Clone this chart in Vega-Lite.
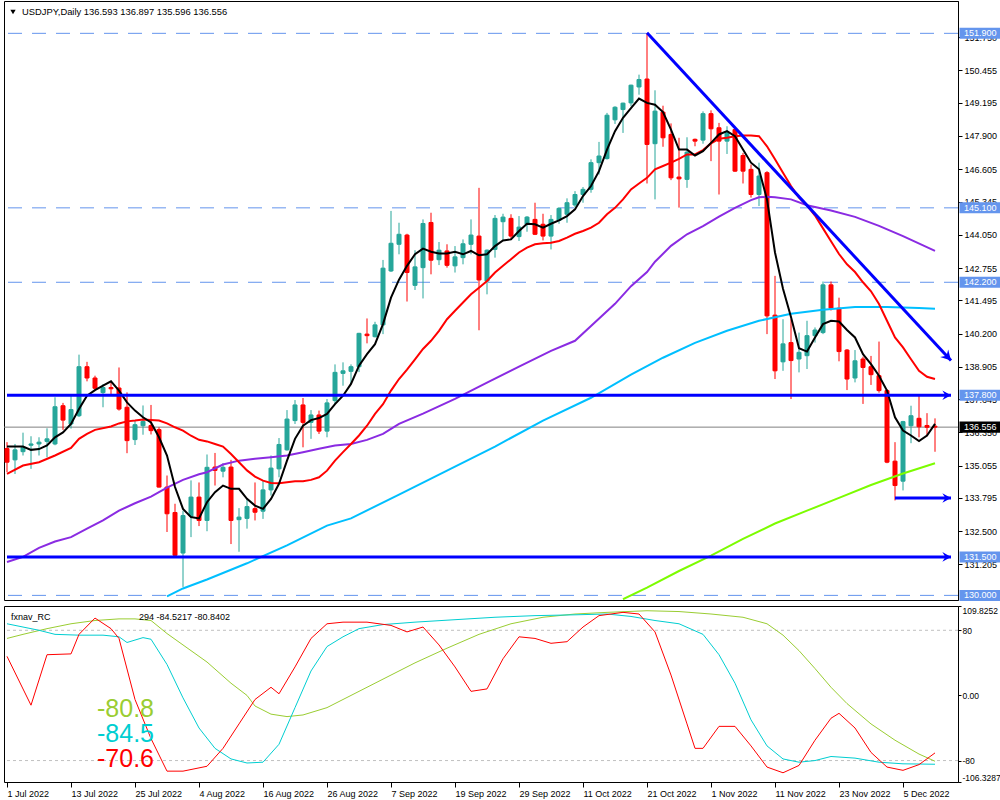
{
"$schema": "https://vega.github.io/schema/vega-lite/v6.json",
"padding": 0,
"background": "white",
"spacing": 3,
"resolve": {"scale": {"x": "independent", "y": "independent"}},
"config": {"font": "Liberation Sans", "view": {"stroke": "black", "strokeWidth": 1}, "axis": {"labelFont": "Liberation Sans", "labelFontSize": 9, "labelColor": "black", "domainColor": "black", "tickColor": "black", "grid": false, "domainWidth": 1, "tickWidth": 1}},
"datasets": {
"candles": [
{"date":"2022-07-01","open":135.72,"high":135.97,"low":134.8,"close":135.19},
{"date":"2022-07-04","open":135.28,"high":135.9,"low":134.73,"close":135.67},
{"date":"2022-07-05","open":135.6,"high":136.34,"low":135.45,"close":135.77},
{"date":"2022-07-06","open":135.85,"high":136.2,"low":134.93,"close":135.9},
{"date":"2022-07-07","open":135.9,"high":136.16,"low":135.45,"close":135.97},
{"date":"2022-07-08","open":136.0,"high":136.51,"low":135.38,"close":136.1},
{"date":"2022-07-11","open":135.9,"high":137.72,"low":135.85,"close":137.35},
{"date":"2022-07-12","open":137.39,"high":137.5,"low":136.45,"close":136.83},
{"date":"2022-07-13","open":136.68,"high":137.78,"low":136.5,"close":137.24},
{"date":"2022-07-14","open":137.0,"high":139.38,"low":136.95,"close":138.91},
{"date":"2022-07-15","open":138.91,"high":139.1,"low":138.34,"close":138.47},
{"date":"2022-07-18","open":138.47,"high":138.56,"low":137.97,"close":138.07},
{"date":"2022-07-19","open":137.9,"high":138.23,"low":137.33,"close":138.1},
{"date":"2022-07-20","open":138.1,"high":138.34,"low":137.78,"close":138.05},
{"date":"2022-07-21","open":138.08,"high":138.88,"low":137.2,"close":137.26},
{"date":"2022-07-22","open":137.33,"high":137.91,"low":135.54,"close":136.03},
{"date":"2022-07-25","open":136.07,"high":136.81,"low":135.86,"close":136.65},
{"date":"2022-07-26","open":136.61,"high":137.4,"low":136.26,"close":136.78},
{"date":"2022-07-27","open":136.62,"high":137.42,"low":136.27,"close":136.42},
{"date":"2022-07-28","open":136.46,"high":136.55,"low":134.2,"close":134.22},
{"date":"2022-07-29","open":134.22,"high":134.67,"low":132.47,"close":133.18},
{"date":"2022-08-01","open":133.23,"high":133.57,"low":131.5,"close":131.56},
{"date":"2022-08-02","open":131.65,"high":133.3,"low":130.33,"close":133.11},
{"date":"2022-08-03","open":133.09,"high":134.48,"low":132.27,"close":133.83},
{"date":"2022-08-04","open":133.83,"high":134.4,"low":132.7,"close":132.92},
{"date":"2022-08-05","open":132.92,"high":135.49,"low":132.5,"close":134.99},
{"date":"2022-08-08","open":135.0,"high":135.55,"low":134.28,"close":134.87},
{"date":"2022-08-09","open":134.84,"high":135.15,"low":134.6,"close":134.99},
{"date":"2022-08-10","open":135.0,"high":135.28,"low":132.0,"close":132.92},
{"date":"2022-08-11","open":132.95,"high":133.4,"low":131.7,"close":133.05},
{"date":"2022-08-12","open":133.0,"high":133.76,"low":132.6,"close":133.46},
{"date":"2022-08-15","open":133.38,"high":134.4,"low":132.92,"close":133.24},
{"date":"2022-08-16","open":133.28,"high":134.47,"low":132.98,"close":134.11},
{"date":"2022-08-17","open":134.11,"high":135.45,"low":133.89,"close":134.96},
{"date":"2022-08-18","open":134.93,"high":136.13,"low":134.6,"close":135.88},
{"date":"2022-08-19","open":135.67,"high":137.22,"low":135.64,"close":136.87},
{"date":"2022-08-22","open":136.81,"high":137.61,"low":136.68,"close":137.42},
{"date":"2022-08-23","open":137.42,"high":137.69,"low":135.77,"close":136.74},
{"date":"2022-08-24","open":136.74,"high":137.22,"low":136.1,"close":137.03},
{"date":"2022-08-25","open":137.03,"high":137.2,"low":136.29,"close":136.4},
{"date":"2022-08-26","open":136.4,"high":137.65,"low":136.16,"close":137.5},
{"date":"2022-08-29","open":137.59,"high":139.0,"low":137.45,"close":138.69},
{"date":"2022-08-30","open":138.65,"high":139.08,"low":138.17,"close":138.75},
{"date":"2022-08-31","open":138.73,"high":139.0,"low":138.24,"close":138.91},
{"date":"2022-09-01","open":138.91,"high":140.23,"low":138.7,"close":140.21},
{"date":"2022-09-02","open":140.18,"high":140.79,"low":139.82,"close":140.12},
{"date":"2022-09-05","open":140.08,"high":140.66,"low":140.05,"close":140.54},
{"date":"2022-09-06","open":140.54,"high":143.07,"low":140.18,"close":142.75},
{"date":"2022-09-07","open":142.64,"high":144.98,"low":142.6,"close":143.72},
{"date":"2022-09-08","open":143.68,"high":144.52,"low":143.29,"close":144.07},
{"date":"2022-09-09","open":144.04,"high":144.09,"low":141.45,"close":142.58},
{"date":"2022-09-12","open":142.08,"high":143.45,"low":141.9,"close":142.8},
{"date":"2022-09-13","open":142.77,"high":144.65,"low":141.57,"close":144.49},
{"date":"2022-09-14","open":144.53,"high":144.91,"low":142.51,"close":143.06},
{"date":"2022-09-15","open":143.08,"high":143.77,"low":142.87,"close":143.45},
{"date":"2022-09-16","open":143.42,"high":143.68,"low":142.77,"close":142.86},
{"date":"2022-09-19","open":142.84,"high":143.61,"low":142.58,"close":143.19},
{"date":"2022-09-20","open":143.16,"high":143.87,"low":142.9,"close":143.7},
{"date":"2022-09-21","open":143.68,"high":144.65,"low":143.29,"close":144.04},
{"date":"2022-09-22","open":144.0,"high":145.88,"low":140.33,"close":142.29},
{"date":"2022-09-23","open":142.25,"high":143.48,"low":141.73,"close":143.45},
{"date":"2022-09-26","open":143.48,"high":144.82,"low":143.16,"close":144.69},
{"date":"2022-09-27","open":144.56,"high":144.87,"low":143.81,"close":144.74},
{"date":"2022-09-28","open":144.69,"high":144.85,"low":143.87,"close":144.0},
{"date":"2022-09-29","open":143.98,"high":144.78,"low":143.81,"close":144.35},
{"date":"2022-09-30","open":144.46,"high":144.78,"low":144.17,"close":144.74},
{"date":"2022-10-03","open":144.65,"high":145.3,"low":144.04,"close":144.07},
{"date":"2022-10-04","open":144.46,"high":144.87,"low":143.83,"close":144.0},
{"date":"2022-10-05","open":144.0,"high":144.82,"low":143.48,"close":144.65},
{"date":"2022-10-06","open":144.61,"high":145.13,"low":144.48,"close":145.08},
{"date":"2022-10-07","open":144.85,"high":145.47,"low":144.52,"close":145.3},
{"date":"2022-10-10","open":145.21,"high":145.75,"low":145.11,"close":145.62},
{"date":"2022-10-11","open":145.62,"high":145.91,"low":145.3,"close":145.82},
{"date":"2022-10-12","open":145.82,"high":146.99,"low":145.69,"close":146.86},
{"date":"2022-10-13","open":146.86,"high":147.67,"low":146.4,"close":147.12},
{"date":"2022-10-14","open":147.02,"high":148.8,"low":146.98,"close":148.71},
{"date":"2022-10-17","open":148.53,"high":149.06,"low":148.37,"close":149.02},
{"date":"2022-10-18","open":148.93,"high":149.2,"low":148.02,"close":149.18},
{"date":"2022-10-19","open":149.19,"high":149.9,"low":149.06,"close":149.88},
{"date":"2022-10-20","open":149.81,"high":150.29,"low":149.51,"close":150.1},
{"date":"2022-10-21","open":150.12,"high":151.91,"low":146.05,"close":147.57},
{"date":"2022-10-24","open":147.6,"high":149.68,"low":145.43,"close":148.87},
{"date":"2022-10-25","open":148.83,"high":149.08,"low":147.48,"close":147.83},
{"date":"2022-10-26","open":147.96,"high":148.39,"low":146.18,"close":146.27},
{"date":"2022-10-27","open":146.3,"high":147.83,"low":145.11,"close":146.23},
{"date":"2022-10-28","open":146.21,"high":147.85,"low":145.88,"close":147.27},
{"date":"2022-10-30","open":147.77,"high":147.8,"low":147.5,"close":147.7},
{"date":"2022-10-31","open":147.74,"high":148.86,"low":147.6,"close":148.77},
{"date":"2022-11-01","open":148.77,"high":148.9,"low":146.92,"close":148.18},
{"date":"2022-11-02","open":148.22,"high":148.41,"low":145.62,"close":147.7},
{"date":"2022-11-03","open":147.7,"high":148.28,"low":147.2,"close":148.05},
{"date":"2022-11-04","open":148.15,"high":148.22,"low":146.5,"close":146.53},
{"date":"2022-11-07","open":147.14,"high":147.24,"low":146.05,"close":146.53},
{"date":"2022-11-08","open":146.6,"high":146.79,"low":145.5,"close":145.62},
{"date":"2022-11-09","open":145.62,"high":146.86,"low":145.17,"close":146.34},
{"date":"2022-11-10","open":146.47,"high":146.53,"low":140.18,"close":140.89},
{"date":"2022-11-11","open":140.92,"high":142.45,"low":138.43,"close":138.75},
{"date":"2022-11-14","open":139.1,"high":140.76,"low":138.75,"close":139.8},
{"date":"2022-11-15","open":139.85,"high":140.76,"low":137.65,"close":139.15},
{"date":"2022-11-16","open":139.21,"high":140.24,"low":138.69,"close":139.47},
{"date":"2022-11-17","open":139.34,"high":140.7,"low":138.82,"close":140.12},
{"date":"2022-11-18","open":140.12,"high":140.44,"low":139.85,"close":140.34},
{"date":"2022-11-21","open":140.24,"high":142.23,"low":140.18,"close":142.1},
{"date":"2022-11-22","open":142.1,"high":142.23,"low":141.1,"close":141.19},
{"date":"2022-11-23","open":141.19,"high":141.6,"low":139.12,"close":139.5},
{"date":"2022-11-24","open":139.56,"high":139.6,"low":138.0,"close":138.43},
{"date":"2022-11-25","open":138.47,"high":139.56,"low":138.3,"close":139.14},
{"date":"2022-11-28","open":139.21,"high":139.3,"low":137.46,"close":138.88},
{"date":"2022-11-29","open":138.91,"high":139.33,"low":138.2,"close":138.6},
{"date":"2022-11-30","open":138.56,"high":139.89,"low":137.9,"close":137.98},
{"date":"2022-12-01","open":137.98,"high":138.04,"low":135.15,"close":135.19},
{"date":"2022-12-02","open":135.23,"high":135.97,"low":133.7,"close":134.28},
{"date":"2022-12-05","open":134.45,"high":136.8,"low":134.09,"close":136.77},
{"date":"2022-12-06","open":136.61,"high":137.39,"low":135.93,"close":137.0},
{"date":"2022-12-07","open":136.9,"high":137.78,"low":136.16,"close":136.57},
{"date":"2022-12-08","open":136.62,"high":137.1,"low":136.2,"close":136.55},
{"date":"2022-12-09","open":136.593,"high":136.897,"low":135.596,"close":136.556}
],
"ma5": [
{"date":"2022-07-01","price":135.8},{"date":"2022-07-04","price":135.8},{"date":"2022-07-05","price":135.8},{"date":"2022-07-06","price":135.67},{"date":"2022-07-07","price":135.7},{"date":"2022-07-08","price":135.84},{"date":"2022-07-11","price":136.16},{"date":"2022-07-12","price":136.35},{"date":"2022-07-13","price":136.68},{"date":"2022-07-14","price":137.26},{"date":"2022-07-15","price":137.78},{"date":"2022-07-18","price":138.0},{"date":"2022-07-19","price":138.17},{"date":"2022-07-20","price":138.34},{"date":"2022-07-21","price":137.98},{"date":"2022-07-22","price":137.52},{"date":"2022-07-25","price":137.2},{"date":"2022-07-26","price":136.94},{"date":"2022-07-27","price":136.74},{"date":"2022-07-28","price":136.16},{"date":"2022-07-29","price":135.45},{"date":"2022-08-01","price":134.22},{"date":"2022-08-02","price":133.37},{"date":"2022-08-03","price":133.05},{"date":"2022-08-04","price":133.0},{"date":"2022-08-05","price":133.63},{"date":"2022-08-08","price":134.02},{"date":"2022-08-09","price":134.28},{"date":"2022-08-10","price":134.15},{"date":"2022-08-11","price":134.15},{"date":"2022-08-12","price":133.76},{"date":"2022-08-15","price":133.5},{"date":"2022-08-16","price":133.37},{"date":"2022-08-17","price":133.76},{"date":"2022-08-18","price":134.35},{"date":"2022-08-19","price":135.25},{"date":"2022-08-22","price":136.1},{"date":"2022-08-23","price":136.61},{"date":"2022-08-24","price":136.83},{"date":"2022-08-25","price":136.91},{"date":"2022-08-26","price":137.07},{"date":"2022-08-29","price":137.45},{"date":"2022-08-30","price":137.78},{"date":"2022-08-31","price":138.24},{"date":"2022-09-01","price":138.95},{"date":"2022-09-02","price":139.4},{"date":"2022-09-05","price":139.79},{"date":"2022-09-06","price":140.57},{"date":"2022-09-07","price":141.6},{"date":"2022-09-08","price":142.3},{"date":"2022-09-09","price":142.84},{"date":"2022-09-12","price":143.29},{"date":"2022-09-13","price":143.51},{"date":"2022-09-14","price":143.39},{"date":"2022-09-15","price":143.32},{"date":"2022-09-16","price":143.32},{"date":"2022-09-19","price":143.39},{"date":"2022-09-20","price":143.29},{"date":"2022-09-21","price":143.42},{"date":"2022-09-22","price":143.25},{"date":"2022-09-23","price":143.29},{"date":"2022-09-26","price":143.61},{"date":"2022-09-27","price":143.83},{"date":"2022-09-28","price":143.87},{"date":"2022-09-29","price":144.2},{"date":"2022-09-30","price":144.48},{"date":"2022-10-03","price":144.46},{"date":"2022-10-04","price":144.33},{"date":"2022-10-05","price":144.48},{"date":"2022-10-06","price":144.61},{"date":"2022-10-07","price":144.78},{"date":"2022-10-10","price":145.04},{"date":"2022-10-11","price":145.56},{"date":"2022-10-12","price":145.95},{"date":"2022-10-13","price":146.53},{"date":"2022-10-14","price":147.37},{"date":"2022-10-17","price":148.09},{"date":"2022-10-18","price":148.61},{"date":"2022-10-19","price":148.99},{"date":"2022-10-20","price":149.36},{"date":"2022-10-21","price":149.19},{"date":"2022-10-24","price":149.12},{"date":"2022-10-25","price":148.83},{"date":"2022-10-26","price":148.15},{"date":"2022-10-27","price":147.37},{"date":"2022-10-28","price":147.37},{"date":"2022-10-30","price":147.14},{"date":"2022-10-31","price":147.31},{"date":"2022-11-01","price":147.63},{"date":"2022-11-02","price":147.96},{"date":"2022-11-03","price":148.09},{"date":"2022-11-04","price":147.89},{"date":"2022-11-07","price":147.37},{"date":"2022-11-08","price":146.86},{"date":"2022-11-09","price":146.6},{"date":"2022-11-10","price":145.43},{"date":"2022-11-11","price":143.36},{"date":"2022-11-14","price":141.95},{"date":"2022-11-15","price":140.85},{"date":"2022-11-16","price":139.63},{"date":"2022-11-17","price":139.5},{"date":"2022-11-18","price":140.05},{"date":"2022-11-21","price":140.57},{"date":"2022-11-22","price":140.7},{"date":"2022-11-23","price":140.67},{"date":"2022-11-24","price":140.34},{"date":"2022-11-25","price":140.05},{"date":"2022-11-28","price":139.4},{"date":"2022-11-29","price":139.01},{"date":"2022-11-30","price":138.56},{"date":"2022-12-01","price":137.98},{"date":"2022-12-02","price":136.94},{"date":"2022-12-05","price":136.42},{"date":"2022-12-06","price":136.23},{"date":"2022-12-07","price":136.01},{"date":"2022-12-08","price":136.23},{"date":"2022-12-09","price":136.68}
],
"ma20": [
{"date":"2022-07-01","price":134.73},{"date":"2022-07-05","price":135.06},{"date":"2022-07-07","price":135.19},{"date":"2022-07-11","price":135.45},{"date":"2022-07-13","price":135.75},{"date":"2022-07-14","price":136.1},{"date":"2022-07-15","price":136.29},{"date":"2022-07-18","price":136.45},{"date":"2022-07-20","price":136.58},{"date":"2022-07-21","price":136.7},{"date":"2022-07-22","price":136.78},{"date":"2022-07-25","price":136.81},{"date":"2022-07-26","price":136.85},{"date":"2022-07-27","price":136.83},{"date":"2022-07-28","price":136.81},{"date":"2022-07-29","price":136.7},{"date":"2022-08-01","price":136.55},{"date":"2022-08-02","price":136.42},{"date":"2022-08-03","price":136.22},{"date":"2022-08-04","price":136.06},{"date":"2022-08-05","price":136.0},{"date":"2022-08-08","price":135.9},{"date":"2022-08-09","price":135.8},{"date":"2022-08-10","price":135.51},{"date":"2022-08-11","price":135.19},{"date":"2022-08-12","price":134.87},{"date":"2022-08-15","price":134.63},{"date":"2022-08-16","price":134.47},{"date":"2022-08-17","price":134.38},{"date":"2022-08-18","price":134.37},{"date":"2022-08-19","price":134.41},{"date":"2022-08-22","price":134.45},{"date":"2022-08-23","price":134.45},{"date":"2022-08-24","price":134.5},{"date":"2022-08-25","price":134.6},{"date":"2022-08-26","price":134.86},{"date":"2022-08-29","price":135.25},{"date":"2022-08-30","price":135.58},{"date":"2022-08-31","price":135.9},{"date":"2022-09-01","price":136.23},{"date":"2022-09-02","price":136.61},{"date":"2022-09-05","price":137.07},{"date":"2022-09-06","price":137.45},{"date":"2022-09-07","price":137.98},{"date":"2022-09-08","price":138.43},{"date":"2022-09-09","price":138.8},{"date":"2022-09-12","price":139.2},{"date":"2022-09-13","price":139.6},{"date":"2022-09-14","price":139.92},{"date":"2022-09-15","price":140.31},{"date":"2022-09-16","price":140.76},{"date":"2022-09-19","price":141.09},{"date":"2022-09-20","price":141.41},{"date":"2022-09-21","price":141.73},{"date":"2022-09-22","price":141.99},{"date":"2022-09-23","price":142.25},{"date":"2022-09-26","price":142.58},{"date":"2022-09-27","price":142.84},{"date":"2022-09-28","price":143.1},{"date":"2022-09-29","price":143.36},{"date":"2022-09-30","price":143.55},{"date":"2022-10-03","price":143.68},{"date":"2022-10-04","price":143.72},{"date":"2022-10-05","price":143.74},{"date":"2022-10-06","price":143.81},{"date":"2022-10-07","price":143.94},{"date":"2022-10-10","price":144.09},{"date":"2022-10-11","price":144.2},{"date":"2022-10-12","price":144.33},{"date":"2022-10-13","price":144.52},{"date":"2022-10-14","price":144.85},{"date":"2022-10-17","price":145.1},{"date":"2022-10-18","price":145.43},{"date":"2022-10-19","price":145.82},{"date":"2022-10-20","price":146.05},{"date":"2022-10-21","price":146.27},{"date":"2022-10-24","price":146.6},{"date":"2022-10-25","price":146.73},{"date":"2022-10-26","price":146.86},{"date":"2022-10-27","price":147.01},{"date":"2022-10-28","price":147.18},{"date":"2022-10-30","price":147.18},{"date":"2022-10-31","price":147.35},{"date":"2022-11-01","price":147.61},{"date":"2022-11-02","price":147.79},{"date":"2022-11-03","price":147.83},{"date":"2022-11-04","price":147.89},{"date":"2022-11-07","price":147.92},{"date":"2022-11-08","price":147.92},{"date":"2022-11-09","price":147.89},{"date":"2022-11-10","price":147.5},{"date":"2022-11-11","price":146.99},{"date":"2022-11-14","price":146.47},{"date":"2022-11-15","price":145.95},{"date":"2022-11-16","price":145.5},{"date":"2022-11-17","price":145.2},{"date":"2022-11-18","price":144.8},{"date":"2022-11-21","price":144.3},{"date":"2022-11-22","price":143.8},{"date":"2022-11-23","price":143.3},{"date":"2022-11-24","price":142.9},{"date":"2022-11-25","price":142.6},{"date":"2022-11-28","price":142.2},{"date":"2022-11-29","price":141.85},{"date":"2022-11-30","price":141.35},{"date":"2022-12-01","price":140.7},{"date":"2022-12-02","price":140.05},{"date":"2022-12-05","price":139.66},{"date":"2022-12-06","price":139.2},{"date":"2022-12-07","price":138.75},{"date":"2022-12-08","price":138.52},{"date":"2022-12-09","price":138.43}
],
"ma50": [
{"date":"2022-07-01","price":131.3},{"date":"2022-07-05","price":131.5},{"date":"2022-07-07","price":131.85},{"date":"2022-07-11","price":132.1},{"date":"2022-07-13","price":132.27},{"date":"2022-07-15","price":132.6},{"date":"2022-07-19","price":132.92},{"date":"2022-07-21","price":133.3},{"date":"2022-07-25","price":133.59},{"date":"2022-07-27","price":133.85},{"date":"2022-07-29","price":134.2},{"date":"2022-08-02","price":134.5},{"date":"2022-08-04","price":134.72},{"date":"2022-08-05","price":134.8},{"date":"2022-08-09","price":135.1},{"date":"2022-08-11","price":135.25},{"date":"2022-08-15","price":135.32},{"date":"2022-08-17","price":135.38},{"date":"2022-08-19","price":135.45},{"date":"2022-08-23","price":135.58},{"date":"2022-08-25","price":135.71},{"date":"2022-08-29","price":135.84},{"date":"2022-08-31","price":135.9},{"date":"2022-09-02","price":136.06},{"date":"2022-09-06","price":136.29},{"date":"2022-09-08","price":136.68},{"date":"2022-09-13","price":137.08},{"date":"2022-09-19","price":137.66},{"date":"2022-09-23","price":138.29},{"date":"2022-09-29","price":138.91},{"date":"2022-10-05","price":139.53},{"date":"2022-10-10","price":139.92},{"date":"2022-10-12","price":140.5},{"date":"2022-10-17","price":141.36},{"date":"2022-10-19","price":142.05},{"date":"2022-10-21","price":142.6},{"date":"2022-10-24","price":143.0},{"date":"2022-10-26","price":143.62},{"date":"2022-10-28","price":144.07},{"date":"2022-10-31","price":144.39},{"date":"2022-11-02","price":144.76},{"date":"2022-11-04","price":145.1},{"date":"2022-11-08","price":145.4},{"date":"2022-11-09","price":145.51},{"date":"2022-11-10","price":145.53},{"date":"2022-11-11","price":145.51},{"date":"2022-11-15","price":145.43},{"date":"2022-11-17","price":145.2},{"date":"2022-11-22","price":145.0},{"date":"2022-11-25","price":144.75},{"date":"2022-11-30","price":144.4},{"date":"2022-12-05","price":144.0},{"date":"2022-12-09","price":143.42}
],
"ma100": [
{"date":"2022-07-29","price":129.96},{"date":"2022-08-02","price":130.27},{"date":"2022-08-05","price":130.62},{"date":"2022-08-12","price":131.25},{"date":"2022-08-19","price":131.95},{"date":"2022-08-26","price":132.72},{"date":"2022-08-31","price":133.0},{"date":"2022-09-08","price":133.93},{"date":"2022-09-16","price":134.86},{"date":"2022-09-26","price":135.8},{"date":"2022-10-04","price":136.81},{"date":"2022-10-12","price":137.7},{"date":"2022-10-19","price":138.6},{"date":"2022-10-25","price":139.26},{"date":"2022-10-30","price":139.84},{"date":"2022-11-03","price":140.31},{"date":"2022-11-09","price":140.7},{"date":"2022-11-15","price":140.97},{"date":"2022-11-21","price":141.13},{"date":"2022-11-25","price":141.24},{"date":"2022-12-01","price":141.24},{"date":"2022-12-07","price":141.2},{"date":"2022-12-09","price":141.17}
],
"ma200": [
{"date":"2022-10-18","price":129.85},{"date":"2022-10-21","price":130.3},{"date":"2022-10-27","price":130.95},{"date":"2022-11-01","price":131.55},{"date":"2022-11-07","price":132.2},{"date":"2022-11-11","price":132.8},{"date":"2022-11-17","price":133.3},{"date":"2022-11-23","price":133.8},{"date":"2022-11-29","price":134.3},{"date":"2022-12-05","price":134.75},{"date":"2022-12-09","price":135.15}
],
"levels": [{"price":151.9},{"price":145.1},{"price":142.2},{"price":130.0}],
"current": [{"price":136.556}],
"objects": [
{"id":"s1","date":"2022-07-01","price":137.8},{"id":"s1","date":"2022-12-13","price":137.8},
{"id":"s2","date":"2022-07-01","price":131.5},{"id":"s2","date":"2022-12-13","price":131.5},
{"id":"s3","date":"2022-12-02","price":133.795},{"id":"s3","date":"2022-12-13","price":133.795},
{"id":"t1","date":"2022-10-21","price":151.92},{"id":"t1","date":"2022-12-13","price":139.15}
],
"harrows": [{"date":"2022-12-13","price":137.8},{"date":"2022-12-13","price":131.5},{"date":"2022-12-13","price":133.795}],
"tarrow": [{"date":"2022-12-13","price":139.15}],
"title": [{"date":"2022-07-01","price":152.73,"label":"USDJPY,Daily  136.593 136.897 135.596 136.556"}],
"tags": [
{"date":"2022-12-13","price":151.9,"label":"151.900","kind":"level"},
{"date":"2022-12-13","price":145.1,"label":"145.100","kind":"level"},
{"date":"2022-12-13","price":142.2,"label":"142.200","kind":"level"},
{"date":"2022-12-13","price":137.8,"label":"137.800","kind":"level"},
{"date":"2022-12-13","price":131.5,"label":"131.500","kind":"level"},
{"date":"2022-12-13","price":130.0,"label":"130.000","kind":"level"},
{"date":"2022-12-13","price":136.556,"label":"136.556","kind":"current"}
],
"osc_levels": [{"value":80},{"value":-80}],
"rc_slow": [
{"date":"2022-07-01","value":70},{"date":"2022-07-05","value":75},{"date":"2022-07-08","value":82},{"date":"2022-07-13","value":88},{"date":"2022-07-18","value":92},{"date":"2022-07-21","value":94},{"date":"2022-07-25","value":94},{"date":"2022-07-27","value":92},{"date":"2022-07-29","value":76},{"date":"2022-08-02","value":62},{"date":"2022-08-05","value":41},{"date":"2022-08-10","value":15},{"date":"2022-08-12","value":0},{"date":"2022-08-15","value":-13},{"date":"2022-08-17","value":-23},{"date":"2022-08-19","value":-26},{"date":"2022-08-23","value":-24},{"date":"2022-08-26","value":-15},{"date":"2022-08-31","value":0},{"date":"2022-09-06","value":20},{"date":"2022-09-12","value":40},{"date":"2022-09-16","value":58},{"date":"2022-09-22","value":75},{"date":"2022-09-28","value":88},{"date":"2022-10-04","value":96},{"date":"2022-10-10","value":100},{"date":"2022-10-14","value":102},{"date":"2022-10-21","value":104},{"date":"2022-10-27","value":103},{"date":"2022-11-01","value":100},{"date":"2022-11-07","value":96},{"date":"2022-11-10","value":88},{"date":"2022-11-14","value":74},{"date":"2022-11-16","value":55},{"date":"2022-11-18","value":33},{"date":"2022-11-22","value":10},{"date":"2022-11-24","value":-10},{"date":"2022-11-29","value":-35},{"date":"2022-12-02","value":-55},{"date":"2022-12-07","value":-72},{"date":"2022-12-09","value":-80.84}
],
"rc_mid": [
{"date":"2022-07-01","value":88},{"date":"2022-07-07","value":80},{"date":"2022-07-11","value":75},{"date":"2022-07-14","value":74},{"date":"2022-07-19","value":74},{"date":"2022-07-21","value":72},{"date":"2022-07-22","value":65},{"date":"2022-07-26","value":71},{"date":"2022-07-27","value":69},{"date":"2022-07-29","value":38},{"date":"2022-08-02","value":-3},{"date":"2022-08-04","value":-40},{"date":"2022-08-08","value":-65},{"date":"2022-08-10","value":-78},{"date":"2022-08-12","value":-83},{"date":"2022-08-16","value":-82},{"date":"2022-08-18","value":-60},{"date":"2022-08-22","value":-15},{"date":"2022-08-24","value":30},{"date":"2022-08-26","value":60},{"date":"2022-08-30","value":72},{"date":"2022-09-01","value":82},{"date":"2022-09-06","value":87},{"date":"2022-09-12","value":90},{"date":"2022-09-19","value":93},{"date":"2022-09-26","value":96},{"date":"2022-10-03","value":98},{"date":"2022-10-10","value":99},{"date":"2022-10-14","value":100},{"date":"2022-10-19","value":97},{"date":"2022-10-24","value":92},{"date":"2022-10-27","value":88},{"date":"2022-10-31","value":75},{"date":"2022-11-02","value":50},{"date":"2022-11-04","value":15},{"date":"2022-11-08","value":-30},{"date":"2022-11-10","value":-62},{"date":"2022-11-14","value":-78},{"date":"2022-11-16","value":-82},{"date":"2022-11-18","value":-80},{"date":"2022-11-22","value":-75},{"date":"2022-11-25","value":-77},{"date":"2022-11-30","value":-82},{"date":"2022-12-05","value":-84},{"date":"2022-12-09","value":-84.52}
],
"rc_fast": [
{"date":"2022-07-01","value":48},{"date":"2022-07-06","value":-12},{"date":"2022-07-08","value":50},{"date":"2022-07-13","value":51},{"date":"2022-07-14","value":75},{"date":"2022-07-18","value":95},{"date":"2022-07-20","value":82},{"date":"2022-07-21","value":70},{"date":"2022-07-25","value":-5},{"date":"2022-07-27","value":-53},{"date":"2022-07-29","value":-93},{"date":"2022-08-02","value":-93},{"date":"2022-08-05","value":-87},{"date":"2022-08-09","value":-65},{"date":"2022-08-11","value":-35},{"date":"2022-08-15","value":-5},{"date":"2022-08-17","value":10},{"date":"2022-08-18","value":2},{"date":"2022-08-22","value":35},{"date":"2022-08-24","value":70},{"date":"2022-08-26","value":88},{"date":"2022-08-30","value":90},{"date":"2022-09-02","value":90},{"date":"2022-09-07","value":86},{"date":"2022-09-09","value":78},{"date":"2022-09-13","value":84},{"date":"2022-09-15","value":62},{"date":"2022-09-19","value":35},{"date":"2022-09-21","value":5},{"date":"2022-09-23","value":8},{"date":"2022-09-27","value":45},{"date":"2022-09-29","value":72},{"date":"2022-10-03","value":70},{"date":"2022-10-05","value":64},{"date":"2022-10-07","value":66},{"date":"2022-10-11","value":84},{"date":"2022-10-13","value":98},{"date":"2022-10-18","value":102},{"date":"2022-10-20","value":100},{"date":"2022-10-24","value":78},{"date":"2022-10-26","value":25},{"date":"2022-10-28","value":-35},{"date":"2022-10-30","value":-65},{"date":"2022-10-31","value":-65},{"date":"2022-11-02","value":-38},{"date":"2022-11-04","value":-38},{"date":"2022-11-08","value":-62},{"date":"2022-11-10","value":-88},{"date":"2022-11-14","value":-95},{"date":"2022-11-16","value":-86},{"date":"2022-11-18","value":-55},{"date":"2022-11-22","value":-28},{"date":"2022-11-23","value":-22},{"date":"2022-11-25","value":-40},{"date":"2022-11-29","value":-70},{"date":"2022-12-01","value":-88},{"date":"2022-12-05","value":-92},{"date":"2022-12-07","value":-85},{"date":"2022-12-09","value":-70.6}
],
"osc_title": [{"date":"2022-07-01","value":96.3,"label":"fxnav_RC"},{"date":"2022-07-25","value":96.3,"label":"294 -84.5217 -80.8402"}],
"osc_big": [{"date":"2022-07-18","value":-16.7,"label":"-80.8","series":"slow"},{"date":"2022-07-18","value":-47.4,"label":"-84.5","series":"mid"},{"date":"2022-07-18","value":-78.1,"label":"-70.6","series":"fast"}]
},
"vconcat": [
{
"width": 954, "height": 599,
"layer": [
{"data": {"name": "levels"}, "mark": {"type": "rule", "color": "#6495ED", "strokeWidth": 1, "strokeDash": [14, 10]},
 "encoding": {"y": {"field": "price", "type": "quantitative", "scale": {"domain": [129.82, 153.16], "nice": false, "zero": false}, "axis": {"orient": "right", "title": null, "values": [151.75, 150.455, 149.195, 147.9, 146.605, 145.345, 144.05, 142.755, 141.495, 140.2, 138.905, 137.645, 136.35, 135.055, 133.795, 132.5, 131.205], "format": ".3f", "tickSize": 4, "labelPadding": 2, "labelOverlap": false}}}},
{"data": {"name": "current"}, "mark": {"type": "rule", "color": "#808080", "strokeWidth": 1},
 "encoding": {"y": {"field": "price", "type": "quantitative", "scale": {"domain": [129.82, 153.16], "nice": false, "zero": false}, "axis": {"orient": "right", "title": null, "values": [151.75, 150.455, 149.195, 147.9, 146.605, 145.345, 144.05, 142.755, 141.495, 140.2, 138.905, 137.645, 136.35, 135.055, 133.795, 132.5, 131.205], "format": ".3f", "tickSize": 4, "labelPadding": 2, "labelOverlap": false}}}},
{"encoding": {
  "x": {"field": "date", "type": "ordinal", "axis": null, "scale": {"type": "point", "padding": 0, "range": [3, 947], "domain": ["2022-07-01","2022-07-04","2022-07-05","2022-07-06","2022-07-07","2022-07-08","2022-07-11","2022-07-12","2022-07-13","2022-07-14","2022-07-15","2022-07-18","2022-07-19","2022-07-20","2022-07-21","2022-07-22","2022-07-25","2022-07-26","2022-07-27","2022-07-28","2022-07-29","2022-08-01","2022-08-02","2022-08-03","2022-08-04","2022-08-05","2022-08-08","2022-08-09","2022-08-10","2022-08-11","2022-08-12","2022-08-15","2022-08-16","2022-08-17","2022-08-18","2022-08-19","2022-08-22","2022-08-23","2022-08-24","2022-08-25","2022-08-26","2022-08-29","2022-08-30","2022-08-31","2022-09-01","2022-09-02","2022-09-05","2022-09-06","2022-09-07","2022-09-08","2022-09-09","2022-09-12","2022-09-13","2022-09-14","2022-09-15","2022-09-16","2022-09-19","2022-09-20","2022-09-21","2022-09-22","2022-09-23","2022-09-26","2022-09-27","2022-09-28","2022-09-29","2022-09-30","2022-10-03","2022-10-04","2022-10-05","2022-10-06","2022-10-07","2022-10-10","2022-10-11","2022-10-12","2022-10-13","2022-10-14","2022-10-17","2022-10-18","2022-10-19","2022-10-20","2022-10-21","2022-10-24","2022-10-25","2022-10-26","2022-10-27","2022-10-28","2022-10-30","2022-10-31","2022-11-01","2022-11-02","2022-11-03","2022-11-04","2022-11-07","2022-11-08","2022-11-09","2022-11-10","2022-11-11","2022-11-14","2022-11-15","2022-11-16","2022-11-17","2022-11-18","2022-11-21","2022-11-22","2022-11-23","2022-11-24","2022-11-25","2022-11-28","2022-11-29","2022-11-30","2022-12-01","2022-12-02","2022-12-05","2022-12-06","2022-12-07","2022-12-08","2022-12-09","2022-12-12","2022-12-13"]}},
  "y": {"field": "price", "type": "quantitative", "scale": {"domain": [129.82, 153.16], "nice": false, "zero": false}, "axis": {"orient": "right", "title": null, "values": [151.75, 150.455, 149.195, 147.9, 146.605, 145.345, 144.05, 142.755, 141.495, 140.2, 138.905, 137.645, 136.35, 135.055, 133.795, 132.5, 131.205], "format": ".3f", "tickSize": 4, "labelPadding": 2, "labelOverlap": false}}
 },
 "layer": [
  {"data": {"name": "candles"}, "mark": {"type": "rule", "strokeWidth": 1},
   "encoding": {
    "y": {"field": "low", "type": "quantitative", "scale": {"domain": [129.82, 153.16], "nice": false, "zero": false}, "axis": {"orient": "right", "title": null, "values": [151.75, 150.455, 149.195, 147.9, 146.605, 145.345, 144.05, 142.755, 141.495, 140.2, 138.905, 137.645, 136.35, 135.055, 133.795, 132.5, 131.205], "format": ".3f", "tickSize": 4, "labelPadding": 2, "labelOverlap": false}},
    "y2": {"field": "high"},
    "color": {"condition": {"test": "datum.close >= datum.open", "value": "#26A69A"}, "value": "#FF0000"}
   }},
  {"data": {"name": "candles"}, "mark": {"type": "bar", "width": 4, "strokeWidth": 1},
   "encoding": {
    "y": {"field": "open", "type": "quantitative", "scale": {"domain": [129.82, 153.16], "nice": false, "zero": false}, "axis": {"orient": "right", "title": null, "values": [151.75, 150.455, 149.195, 147.9, 146.605, 145.345, 144.05, 142.755, 141.495, 140.2, 138.905, 137.645, 136.35, 135.055, 133.795, 132.5, 131.205], "format": ".3f", "tickSize": 4, "labelPadding": 2, "labelOverlap": false}},
    "y2": {"field": "close"},
    "fill": {"condition": {"test": "datum.close >= datum.open", "value": "#26A69A"}, "value": "#FF0000"},
    "stroke": {"condition": {"test": "datum.close >= datum.open", "value": "#26A69A"}, "value": "#FF0000"}
   }},
  {"data": {"name": "ma100"}, "mark": {"type": "line", "color": "#00BFFF", "strokeWidth": 2, "clip": true}},
  {"data": {"name": "ma200"}, "mark": {"type": "line", "color": "#7CFC00", "strokeWidth": 2, "clip": true}},
  {"data": {"name": "ma50"}, "mark": {"type": "line", "color": "#8A2BE2", "strokeWidth": 2, "clip": true}},
  {"data": {"name": "ma20"}, "mark": {"type": "line", "color": "#FF0000", "strokeWidth": 2, "clip": true}},
  {"data": {"name": "ma5"}, "mark": {"type": "line", "color": "#000000", "strokeWidth": 2, "clip": true}},
  {"data": {"name": "objects"}, "mark": {"type": "line", "color": "#0000FF", "strokeWidth": 3, "strokeCap": "butt"}, "encoding": {"detail": {"field": "id", "type": "nominal"}}},
  {"data": {"name": "harrows"}, "mark": {"type": "point", "shape": "M-1,-0.55L0,0L-1,0.55L-0.65,0Z", "filled": true, "color": "#0000FF", "size": 300, "opacity": 1, "strokeWidth": 0}},
  {"data": {"name": "tarrow"}, "mark": {"type": "point", "shape": "M-1,-0.55L0,0L-1,0.55L-0.65,0Z", "filled": true, "color": "#0000FF", "size": 400, "opacity": 1, "strokeWidth": 0, "angle": 47}},
  {"data": {"name": "title"}, "mark": {"type": "point", "shape": "triangle-down", "filled": true, "color": "black", "size": 28, "opacity": 1, "xOffset": 6}},
  {"data": {"name": "title"}, "mark": {"type": "text", "align": "left", "baseline": "middle", "dx": 15, "fontSize": 9.4, "color": "black", "font": "Liberation Sans"}, "encoding": {"text": {"field": "label"}}},
  {"data": {"name": "tags"}, "mark": {"type": "point", "shape": "M0.198,-0.128H1.186V0.128H0.198Z", "filled": true, "size": 7396, "opacity": 1, "strokeWidth": 0}, "encoding": {"color": {"condition": {"test": "datum.kind == 'current'", "value": "#000000"}, "value": "#6495ED"}}},
  {"data": {"name": "tags"}, "mark": {"type": "text", "align": "left", "baseline": "middle", "dx": 13, "fontSize": 9, "color": "white", "font": "Liberation Sans"}, "encoding": {"text": {"field": "label"}}}
 ]
}
]
},
{
"width": 954, "height": 176,
"layer": [
{"data": {"name": "osc_levels"}, "mark": {"type": "rule", "color": "#C0C0C0", "strokeWidth": 1, "strokeDash": [3, 3]},
 "encoding": {"y": {"field": "value", "type": "quantitative", "scale": {"domain": [-106.3287, 109.8252], "nice": false, "zero": false}, "axis": {"orient": "right", "title": null, "values": [109.8252, 80, 0, -80, -106.3287], "labelExpr": "datum.value == 0 ? '0.00' : '' + datum.value", "labelFlush": true, "tickSize": 3, "labelPadding": 1, "labelFontSize": 8.5, "labelOverlap": false}}}},
{"encoding": {
  "x": {"field": "date", "type": "ordinal", "scale": {"type": "point", "padding": 0, "range": [3, 947], "domain": ["2022-07-01","2022-07-04","2022-07-05","2022-07-06","2022-07-07","2022-07-08","2022-07-11","2022-07-12","2022-07-13","2022-07-14","2022-07-15","2022-07-18","2022-07-19","2022-07-20","2022-07-21","2022-07-22","2022-07-25","2022-07-26","2022-07-27","2022-07-28","2022-07-29","2022-08-01","2022-08-02","2022-08-03","2022-08-04","2022-08-05","2022-08-08","2022-08-09","2022-08-10","2022-08-11","2022-08-12","2022-08-15","2022-08-16","2022-08-17","2022-08-18","2022-08-19","2022-08-22","2022-08-23","2022-08-24","2022-08-25","2022-08-26","2022-08-29","2022-08-30","2022-08-31","2022-09-01","2022-09-02","2022-09-05","2022-09-06","2022-09-07","2022-09-08","2022-09-09","2022-09-12","2022-09-13","2022-09-14","2022-09-15","2022-09-16","2022-09-19","2022-09-20","2022-09-21","2022-09-22","2022-09-23","2022-09-26","2022-09-27","2022-09-28","2022-09-29","2022-09-30","2022-10-03","2022-10-04","2022-10-05","2022-10-06","2022-10-07","2022-10-10","2022-10-11","2022-10-12","2022-10-13","2022-10-14","2022-10-17","2022-10-18","2022-10-19","2022-10-20","2022-10-21","2022-10-24","2022-10-25","2022-10-26","2022-10-27","2022-10-28","2022-10-30","2022-10-31","2022-11-01","2022-11-02","2022-11-03","2022-11-04","2022-11-07","2022-11-08","2022-11-09","2022-11-10","2022-11-11","2022-11-14","2022-11-15","2022-11-16","2022-11-17","2022-11-18","2022-11-21","2022-11-22","2022-11-23","2022-11-24","2022-11-25","2022-11-28","2022-11-29","2022-11-30","2022-12-01","2022-12-02","2022-12-05","2022-12-06","2022-12-07","2022-12-08","2022-12-09","2022-12-12","2022-12-13"]},
        "axis": {"orient": "bottom", "title": null, "values": ["2022-07-01","2022-07-13","2022-07-25","2022-08-04","2022-08-16","2022-08-26","2022-09-07","2022-09-19","2022-09-29","2022-10-11","2022-10-21","2022-11-01","2022-11-11","2022-11-23","2022-12-05"], "labelExpr": "utcFormat(toDate(datum.value), '%-d %b %Y')", "labelAlign": "left", "labelAngle": 0, "labelBaseline": "top", "tickSize": 5, "labelPadding": 2, "labelOverlap": false}},
  "y": {"field": "value", "type": "quantitative", "scale": {"domain": [-106.3287, 109.8252], "nice": false, "zero": false}, "axis": {"orient": "right", "title": null, "values": [109.8252, 80, 0, -80, -106.3287], "labelExpr": "datum.value == 0 ? '0.00' : '' + datum.value", "labelFlush": true, "tickSize": 3, "labelPadding": 1, "labelFontSize": 8.5, "labelOverlap": false}}
 },
 "layer": [
  {"data": {"name": "rc_slow"}, "mark": {"type": "line", "color": "#9ACD32", "strokeWidth": 1}},
  {"data": {"name": "rc_mid"}, "mark": {"type": "line", "color": "#00CED1", "strokeWidth": 1}},
  {"data": {"name": "rc_fast"}, "mark": {"type": "line", "color": "#FF0000", "strokeWidth": 1}},
  {"data": {"name": "osc_title"}, "mark": {"type": "text", "align": "left", "baseline": "middle", "dx": 4, "fontSize": 9, "color": "black", "font": "Liberation Sans"}, "encoding": {"text": {"field": "label"}}},
  {"data": {"name": "osc_big"}, "mark": {"type": "text", "align": "left", "baseline": "middle", "dx": 2, "fontSize": 25, "font": "Liberation Sans"}, "encoding": {"text": {"field": "label"}, "color": {"field": "series", "type": "nominal", "scale": {"domain": ["slow", "mid", "fast"], "range": ["#9ACD32", "#00CED1", "#FF0000"]}, "legend": null}}}
 ]
}
]
}
]
}
